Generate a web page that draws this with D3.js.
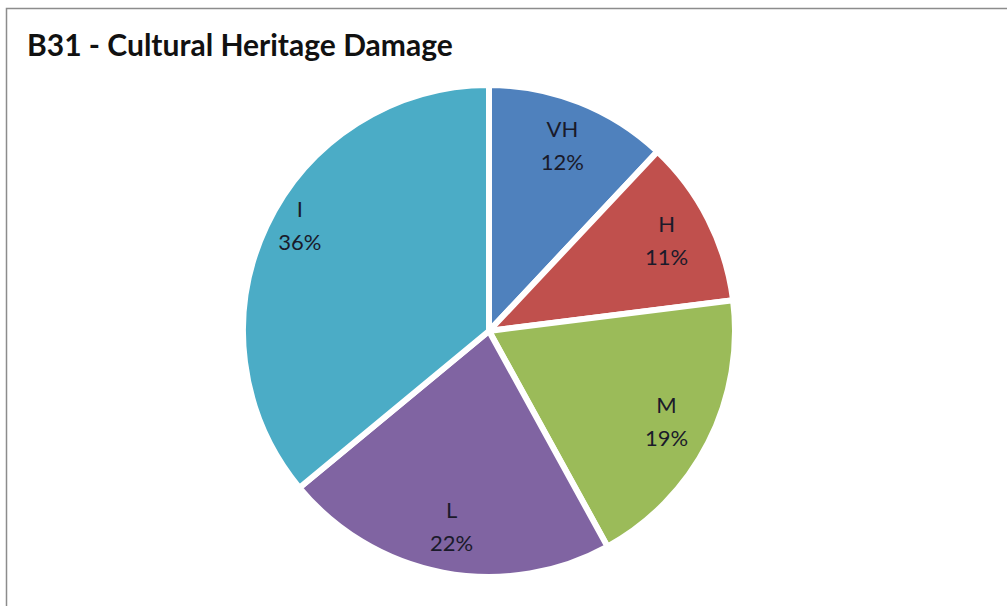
<!DOCTYPE html>
<html>
<head>
<meta charset="utf-8">
<script src="https://cdn.jsdelivr.net/npm/d3@7/dist/d3.min.js"></script>
<style>
  html, body { margin: 0; padding: 0; background: #fff; }
  svg { display: block; }
</style>
</head>
<body>
<svg id="chart" width="1007" height="606"></svg>
<script>
// Damage categories, clockwise from 12 o'clock
const categories = ["VH", "H", "M", "L", "I"];
const shares = [12, 11, 19, 22, 36];
const colors = ["#4F81BD", "#C0504D", "#9BBB59", "#8064A2", "#4BACC6"];
const title = "B31 - Cultural Heritage Damage";

const W = 1007, H = 606;
const svg = d3.select("#chart");

// Chart frame
svg.append("rect")
  .attr("x", 6.5).attr("y", 8.5)
  .attr("width", W + 10).attr("height", H + 10)
  .attr("fill", "#fff")
  .attr("stroke", "#8c8c8c")
  .attr("stroke-width", 1.5);

svg.append("text")
  .attr("x", 27).attr("y", 56)
  .attr("font-family", "Lato, 'Open Sans', sans-serif")
  .attr("font-weight", "bold")
  .attr("font-size", 30)
  .attr("fill", "#111")
  .text(title);

const cx = 489, cy = 331, r = 246;
const data = categories.map((c, i) => ({ cat: c, value: shares[i], color: colors[i] }));

const pie = d3.pie().value(d => d.value).sort(null);
const arc = d3.arc().innerRadius(0).outerRadius(r);
const labelArc = d3.arc().innerRadius(r * 0.81).outerRadius(r * 0.81);

// the widest slice keeps its label a little further up and out
const labelNudge = { I: [-9, -21] };

const g = svg.append("g").attr("transform", `translate(${cx},${cy})`);
const arcs = pie(data);

g.selectAll("path.slice")
  .data(arcs)
  .join("path")
  .attr("class", "slice")
  .attr("d", arc)
  .attr("fill", d => d.data.color)
  .attr("stroke", "#fff")
  .attr("stroke-width", 6)
  .attr("stroke-linejoin", "round");

const total = d3.sum(shares);
const labels = g.selectAll("text.lbl")
  .data(arcs)
  .join("text")
  .attr("class", "lbl")
  .attr("transform", d => {
    const [x, y] = labelArc.centroid(d);
    const [nx, ny] = labelNudge[d.data.cat] || [0, 0];
    return `translate(${x + nx},${y + ny})`;
  })
  .attr("text-anchor", "middle")
  .attr("font-family", "Lato, 'Open Sans', sans-serif")
  .attr("font-size", 22)
  .attr("fill", "#1a1a2a");

labels.append("tspan").attr("x", 0).attr("dy", "-0.39em").text(d => d.data.cat);
labels.append("tspan").attr("x", 0).attr("dy", "1.5em")
  .text(d => Math.round(d.data.value / total * 100) + "%");
</script>
</body>
</html>
